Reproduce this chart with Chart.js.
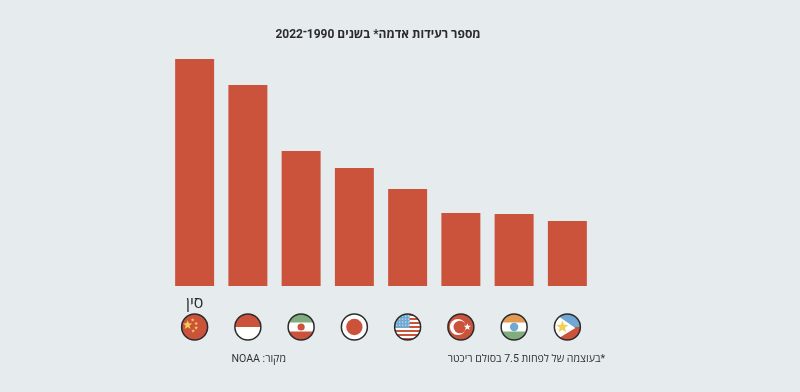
<!DOCTYPE html>
<html lang="he"><head><meta charset="utf-8">
<style>html,body{margin:0;padding:0;background:#e6ebee}canvas{display:block}#w{position:relative;width:800px;height:392px}</style>
<script src="https://cdn.jsdelivr.net/npm/chart.js@4"></script>
</head><body><div id="w"><canvas id="c" width="800" height="392"></canvas></div>
<script>
const categories = ['סין','','','','','','',''];
const countries = ['china','indonesia','iran','japan','usa','turkey','india','philippines'];
const quakes = [227,201,135,118,97,73,72,65];
const titleText = 'מספר רעידות אדמה* בשנים 1990־2022';
const sourceText = 'מקור: NOAA';
const noteText = '*בעוצמה של לפחות 7.5 בסולם ריכטר';
const RED='#cc533b', DARK='#2b2b2b', WHITE='#ffffff', BLUE='#6fa8d2', GREEN='#7fad7d', GOLD='#f2cf55';
const FONT='Roboto, "Open Sans", sans-serif';

function star(c,x,y,r,col,rot){c.fillStyle=col;c.beginPath();for(let i=0;i<10;i++){const a=(rot||-Math.PI/2)+i*Math.PI/5,q=i%2?r*.42:r;c.lineTo(x+q*Math.cos(a),y+q*Math.sin(a));}c.closePath();c.fill();}
const flags={
 china(c,x,y,r){c.fillStyle=RED;c.fillRect(x-r,y-r,2*r,2*r);star(c,x-7,y-2,4.8,GOLD);[[-2,-7,2],[1.5,-3.5,2],[1.5,0.8,2],[-1.5,4,2]].forEach(p=>star(c,x+p[0],y+p[1],p[2],GOLD));},
 indonesia(c,x,y,r){c.fillStyle=WHITE;c.fillRect(x-r,y-r,2*r,2*r);c.fillStyle=RED;c.fillRect(x-r,y-r,2*r,r);},
 iran(c,x,y,r){c.fillStyle=WHITE;c.fillRect(x-r,y-r,2*r,2*r);c.fillStyle=GREEN;c.fillRect(x-r,y-r,2*r,8.5);c.fillStyle=RED;c.fillRect(x-r,y+4.5,2*r,9);c.beginPath();c.arc(x,y,3.6,0,7);c.fill();},
 japan(c,x,y,r){c.fillStyle=WHITE;c.fillRect(x-r,y-r,2*r,2*r);c.fillStyle=RED;c.beginPath();c.arc(x,y,8.2,0,7);c.fill();},
 usa(c,x,y,r){c.fillStyle=WHITE;c.fillRect(x-r,y-r,2*r,2*r);c.fillStyle=RED;for(let i=0;i<7;i++)c.fillRect(x-r,y-r+i*4,2*r,2);c.fillStyle=BLUE;c.fillRect(x-r,y-r,r+2,14);c.fillStyle='#d8e6f0';for(let a=0;a<5;a++)for(let b=0;b<4;b++)c.fillRect(x-r+1.5+a*3,y-r+1.5+b*3,1.2,1.2);},
 turkey(c,x,y,r){c.fillStyle=RED;c.fillRect(x-r,y-r,2*r,2*r);c.fillStyle=WHITE;c.beginPath();c.arc(x-3,y,8,0,7);c.fill();c.fillStyle=RED;c.beginPath();c.arc(x-1,y,6.3,0,7);c.fill();star(c,x+6.5,y,3.8,WHITE);},
 india(c,x,y,r){c.fillStyle=WHITE;c.fillRect(x-r,y-r,2*r,2*r);c.fillStyle='#e39a50';c.fillRect(x-r,y-r,2*r,8.5);c.fillStyle=GREEN;c.fillRect(x-r,y+4.5,2*r,9);c.fillStyle=BLUE;c.beginPath();c.arc(x,y,4.2,0,7);c.fill();},
 philippines(c,x,y,r){c.fillStyle=BLUE;c.fillRect(x-r,y-r,2*r,r);c.fillStyle=RED;c.fillRect(x-r,y,2*r,r);c.fillStyle=WHITE;c.beginPath();c.moveTo(x-r-2,y-r-2);c.lineTo(x+8,y+1);c.lineTo(x-r-2,y+r+2);c.fill();star(c,x-5,y,6.5,GOLD);}
};
const decor={id:'decor',
 afterLayout(ch){ch.titleBlock.left-=3;ch.titleBlock.right-=3;},
 afterDraw(ch){
 const c=ch.ctx,sx=ch.scales.x,fy=327,r=13;
 countries.forEach((k,i)=>{const x=sx.getPixelForValue(i);
  c.save();c.beginPath();c.arc(x,fy,r,0,Math.PI*2);c.clip();flags[k](c,x,fy,r);c.restore();
  c.strokeStyle=DARK;c.lineWidth=1.5;c.beginPath();c.arc(x,fy,r,0,Math.PI*2);c.stroke();});
 c.save();c.direction='rtl';c.fillStyle='#333';c.font='10.6px '+FONT;c.textBaseline='middle';c.textAlign='right';
 c.fillText(sourceText,286,359);c.fillText(noteText,605,359);c.restore();
}};
new Chart(document.getElementById('c'),{type:'bar',plugins:[decor],
 data:{labels:categories,datasets:[{data:quakes,backgroundColor:RED,borderWidth:0,barPercentage:.732,categoryPercentage:1}]},
 options:{responsive:false,animation:false,
  layout:{padding:{left:168,right:206,top:0,bottom:0}},
  plugins:{legend:{display:false},tooltip:{enabled:false},
   title:{display:true,text:titleText,color:'#2b2b2b',font:{family:FONT,size:12,weight:'bold'},padding:{top:28,bottom:16.6},fullSize:false}},
  scales:{
   y:{display:false,min:0,max:227},
   x:{grid:{display:false},border:{display:false},ticks:{color:'#2b2b2b',font:{family:FONT,size:16},padding:0,maxRotation:0,autoSkip:false},
      afterFit(s){s.height=106;}}
  }}
});
</script></body></html>
